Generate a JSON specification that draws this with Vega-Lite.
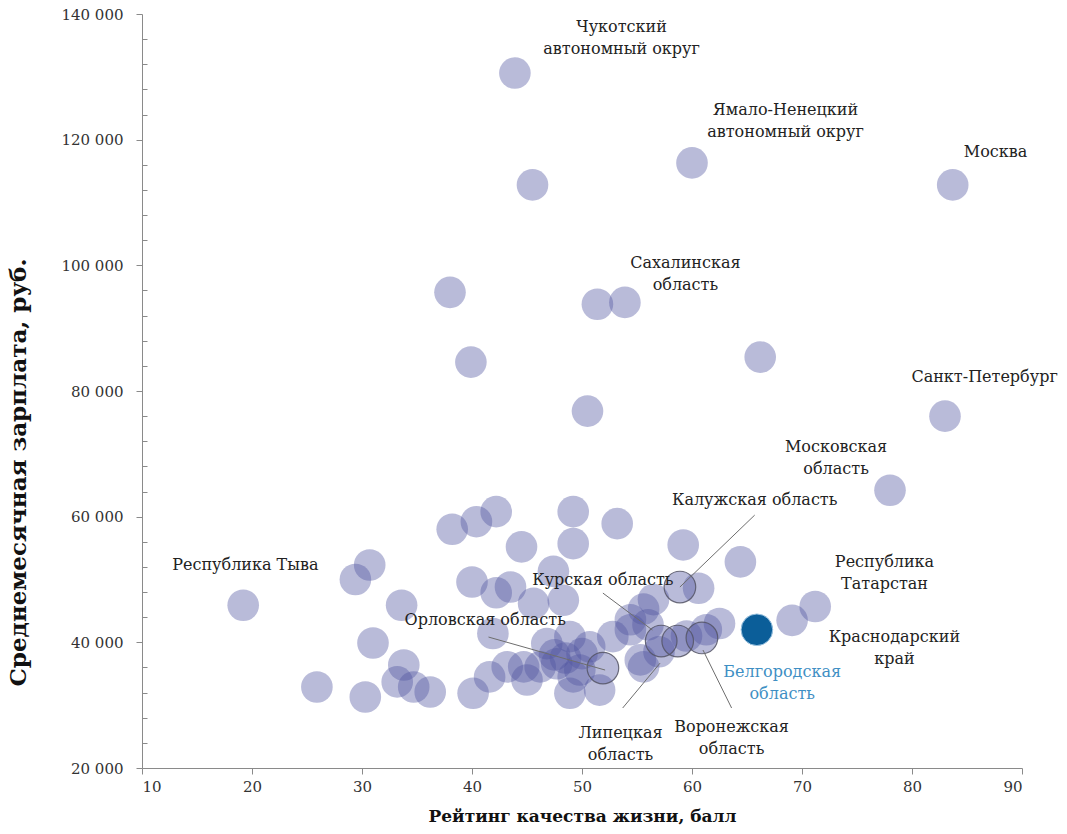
{
  "$schema": "https://vega.github.io/schema/vega-lite/v6.json",
  "width": 880,
  "height": 754,
  "autosize": "none",
  "padding": {"left": 142, "top": 14, "right": 45, "bottom": 66},
  "background": "white",
  "config": {
    "view": {"stroke": null},
    "font": "DejaVu Serif",
    "axis": {"grid": false, "domainColor": "#8a8a8a", "tickColor": "#8a8a8a", "labelFont": "DejaVu Serif", "titleFont": "DejaVu Serif", "labelColor": "#333333", "titleColor": "#111111", "labelFontSize": 15, "titleFontSize": 17, "titleFontWeight": "bold"}
  },
  "datasets": {
    "pts": [
      {"x": 43.9, "y": 130600, "g": "o"}, {"x": 45.5, "y": 112800, "g": "o"}, {"x": 60.0, "y": 116300, "g": "o"}, {"x": 83.7, "y": 112800, "g": "o"},
      {"x": 38.0, "y": 95700, "g": "o"}, {"x": 51.4, "y": 93800, "g": "o"}, {"x": 53.9, "y": 94100, "g": "o"}, {"x": 66.2, "y": 85400, "g": "o"},
      {"x": 39.9, "y": 84600, "g": "o"}, {"x": 50.5, "y": 76800, "g": "o"}, {"x": 83.0, "y": 76000, "g": "o"}, {"x": 78.0, "y": 64200, "g": "o"},
      {"x": 38.2, "y": 58000, "g": "o"}, {"x": 40.4, "y": 59200, "g": "o"}, {"x": 42.2, "y": 60800, "g": "o"}, {"x": 44.5, "y": 55200, "g": "o"},
      {"x": 49.2, "y": 60800, "g": "o"}, {"x": 49.2, "y": 55700, "g": "o"}, {"x": 53.2, "y": 58900, "g": "o"}, {"x": 59.2, "y": 55500, "g": "o"},
      {"x": 64.4, "y": 52800, "g": "o"}, {"x": 60.6, "y": 48600, "g": "o"}, {"x": 29.4, "y": 50000, "g": "o"}, {"x": 30.7, "y": 52300, "g": "o"},
      {"x": 19.2, "y": 45900, "g": "o"}, {"x": 33.6, "y": 45900, "g": "o"}, {"x": 40.0, "y": 49600, "g": "o"}, {"x": 42.2, "y": 47900, "g": "o"},
      {"x": 43.5, "y": 48800, "g": "o"}, {"x": 47.4, "y": 51300, "g": "o"}, {"x": 45.6, "y": 46200, "g": "o"}, {"x": 48.3, "y": 46700, "g": "o"},
      {"x": 55.6, "y": 45300, "g": "o"}, {"x": 54.4, "y": 43600, "g": "o"}, {"x": 56.5, "y": 46800, "g": "o"}, {"x": 58.9, "y": 48800, "g": "h"},
      {"x": 31.0, "y": 39900, "g": "o"}, {"x": 33.8, "y": 36400, "g": "o"}, {"x": 25.9, "y": 32900, "g": "o"}, {"x": 30.3, "y": 31300, "g": "o"},
      {"x": 33.2, "y": 33700, "g": "o"}, {"x": 34.7, "y": 32900, "g": "o"}, {"x": 36.2, "y": 32100, "g": "o"}, {"x": 40.1, "y": 31900, "g": "o"},
      {"x": 41.6, "y": 34500, "g": "o"}, {"x": 43.2, "y": 36100, "g": "o"}, {"x": 44.7, "y": 36100, "g": "o"}, {"x": 46.2, "y": 36100, "g": "o"},
      {"x": 47.7, "y": 36600, "g": "o"}, {"x": 48.9, "y": 31900, "g": "o"}, {"x": 46.8, "y": 39800, "g": "o"}, {"x": 48.9, "y": 40900, "g": "o"},
      {"x": 50.7, "y": 39300, "g": "o"}, {"x": 49.8, "y": 35600, "g": "o"}, {"x": 52.8, "y": 40900, "g": "o"}, {"x": 55.3, "y": 37200, "g": "o"},
      {"x": 62.5, "y": 43000, "g": "o"}, {"x": 61.3, "y": 42000, "g": "o"}, {"x": 55.6, "y": 36100, "g": "o"}, {"x": 54.4, "y": 42000, "g": "o"},
      {"x": 49.2, "y": 34500, "g": "o"}, {"x": 51.6, "y": 32400, "g": "o"}, {"x": 41.9, "y": 41400, "g": "o"}, {"x": 45.0, "y": 34000, "g": "o"},
      {"x": 47.5, "y": 38000, "g": "o"}, {"x": 48.5, "y": 37500, "g": "o"}, {"x": 50.0, "y": 38200, "g": "o"}, {"x": 57.0, "y": 38500, "g": "o"},
      {"x": 59.5, "y": 41000, "g": "o"}, {"x": 56.0, "y": 42800, "g": "o"}, {"x": 69.1, "y": 43500, "g": "o"}, {"x": 71.2, "y": 45700, "g": "o"},
      {"x": 51.9, "y": 35900, "g": "h"}, {"x": 57.2, "y": 40200, "g": "h"}, {"x": 58.7, "y": 40200, "g": "h"}, {"x": 60.9, "y": 40700, "g": "h"},
      {"x": 65.9, "y": 42000, "g": "b"}
    ],
    "labels": [
      {"t": "Чукотский\nавтономный округ", "x": 53.6, "y": 137940, "c": "k"},
      {"t": "Ямало-Ненецкий\nавтономный округ", "x": 68.5, "y": 124690, "c": "k"},
      {"t": "Москва", "x": 87.6, "y": 118050, "c": "k"},
      {"t": "Сахалинская\nобласть", "x": 59.4, "y": 100350, "c": "k"},
      {"t": "Санкт-Петербург", "x": 86.6, "y": 82200, "c": "k"},
      {"t": "Московская\nобласть", "x": 73.1, "y": 71150, "c": "k"},
      {"t": "Калужская область", "x": 65.7, "y": 62640, "c": "k"},
      {"t": "Республика Тыва", "x": 19.4, "y": 52300, "c": "k"},
      {"t": "Курская область", "x": 51.9, "y": 49900, "c": "k"},
      {"t": "Орловская область", "x": 41.2, "y": 43550, "c": "k"},
      {"t": "Республика\nТатарстан", "x": 77.5, "y": 52770, "c": "k"},
      {"t": "Краснодарский\nкрай", "x": 78.4, "y": 40840, "c": "k"},
      {"t": "Белгородская\nобласть", "x": 68.2, "y": 35270, "c": "b"},
      {"t": "Липецкая\nобласть", "x": 53.5, "y": 25570, "c": "k"},
      {"t": "Воронежская\nобласть", "x": 63.6, "y": 26520, "c": "k"}
    ],
    "leaders": [
      {"x": 58.9, "y": 48800, "x2": 65.7, "y2": 60250},
      {"x": 51.9, "y": 47840, "x2": 56.4, "y2": 41960},
      {"x": 41.5, "y": 40840, "x2": 52.1, "y2": 35590},
      {"x": 53.7, "y": 29550, "x2": 57.1, "y2": 36700},
      {"x": 63.6, "y": 29550, "x2": 61.0, "y2": 38770}
    ]
  },
  "resolve": {"axis": {"y": "independent"}},
  "layer": [
    {
      "data": {"name": "pts"},
      "transform": [{"filter": "datum.g !== 'b'"}],
      "mark": {"type": "circle", "size": 1000, "color": "#5054a0", "opacity": 0.4},
      "encoding": {
        "x": {"field": "x", "type": "quantitative", "scale": {"domain": [10, 90], "nice": false, "zero": false},
          "axis": {"values": [10, 20, 30, 40, 50, 60, 70, 80, 90], "tickSize": 6, "labelPadding": 5, "title": "Рейтинг качества жизни, балл", "titlePadding": 14}},
        "y": {"field": "y", "type": "quantitative", "scale": {"domain": [20000, 140000], "nice": false, "zero": false},
          "axis": {"values": [20000, 40000, 60000, 80000, 100000, 120000, 140000], "tickSize": 6, "labelPadding": 13, "labelExpr": "replace(format(datum.value, ',d'), ',', ' ')", "title": "Среднемесячная зарплата, руб.", "titleFontSize": 23, "titleX": -124, "titleY": 458, "titleAngle": 270, "titleAlign": "center", "titleBaseline": "middle"}}
      }
    },
    {
      "data": {"name": "pts"},
      "transform": [{"filter": "datum.g === 'h'"}],
      "mark": {"type": "point", "shape": "circle", "size": 1000, "filled": false, "stroke": "#555566", "strokeWidth": 1.2, "opacity": 0.85},
      "encoding": {
        "x": {"field": "x", "type": "quantitative"},
        "y": {"field": "y", "type": "quantitative",
          "axis": {"values": [24000, 28000, 32000, 36000, 44000, 48000, 52000, 56000, 64000, 68000, 72000, 76000, 84000, 88000, 92000, 96000, 104000, 108000, 112000, 116000, 124000, 128000, 132000, 136000], "tickSize": -5, "labels": false, "domain": false, "title": null, "orient": "left"}}
      }
    },
    {
      "data": {"name": "pts"},
      "transform": [{"filter": "datum.g === 'b'"}],
      "mark": {"type": "circle", "size": 1000, "color": "#0b5e99", "opacity": 1, "stroke": "#9cc3e0", "strokeWidth": 1},
      "encoding": {
        "x": {"field": "x", "type": "quantitative"},
        "y": {"field": "y", "type": "quantitative", "axis": null}
      }
    },
    {
      "data": {"name": "leaders"},
      "mark": {"type": "rule", "color": "#6e6e6e", "strokeWidth": 1},
      "encoding": {
        "x": {"field": "x", "type": "quantitative"},
        "y": {"field": "y", "type": "quantitative", "axis": null},
        "x2": {"field": "x2"},
        "y2": {"field": "y2"}
      }
    },
    {
      "data": {"name": "labels"},
      "mark": {"type": "text", "font": "DejaVu Serif", "fontSize": 16, "lineBreak": "\n", "lineHeight": 22, "align": "center", "baseline": "middle"},
      "encoding": {
        "x": {"field": "x", "type": "quantitative"},
        "y": {"field": "y", "type": "quantitative", "axis": null},
        "text": {"field": "t"},
        "color": {"field": "c", "type": "nominal", "scale": {"domain": ["k", "b"], "range": ["#222222", "#3f8fc4"]}, "legend": null}
      }
    }
  ]
}
